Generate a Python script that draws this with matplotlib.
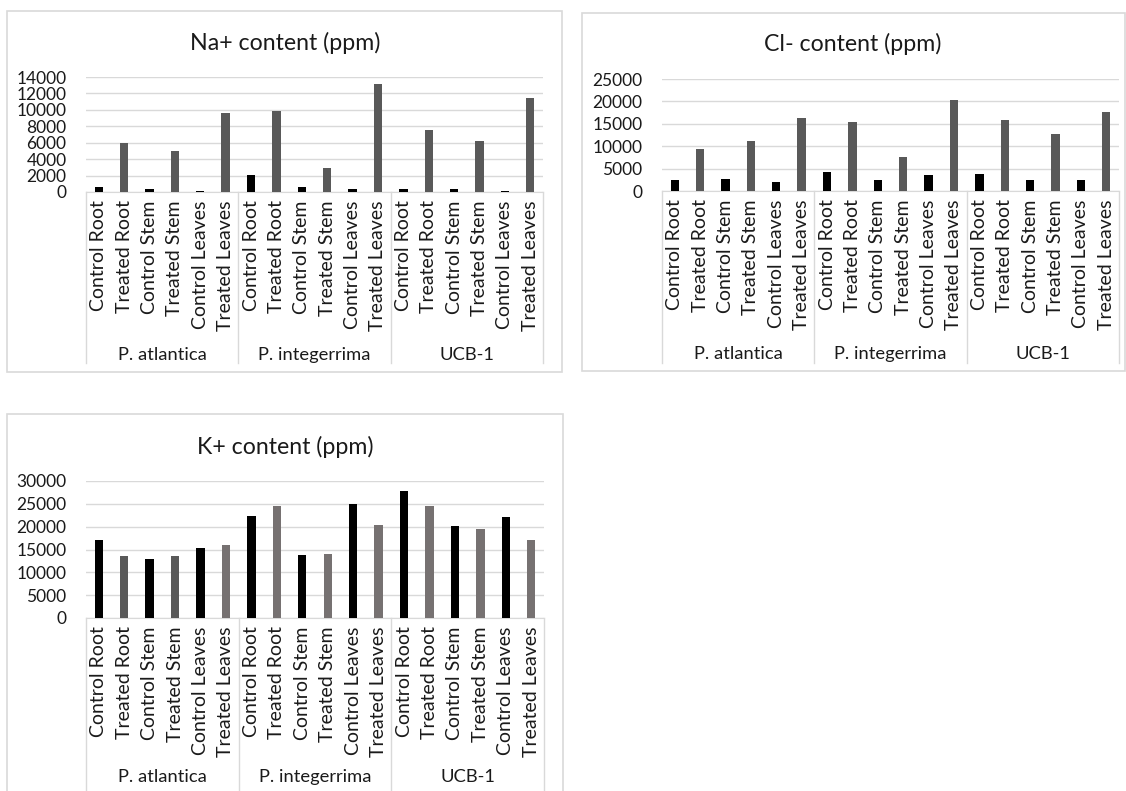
import matplotlib
matplotlib.use("Agg")
import matplotlib.pyplot as plt
from matplotlib.patches import Rectangle

plt.rcParams['font.family'] = ['Lato', 'DejaVu Sans']

W, H = 1126, 791

groups = ["P. atlantica", "P. integerrima", "UCB-1"]
tissues = ["Control Root", "Treated Root", "Control Stem", "Treated Stem",
           "Control Leaves", "Treated Leaves"]

na_values = [650, 5950, 400, 5030, 160, 9580,
             2110, 9800, 650, 2920, 330, 13200,
             400, 7600, 400, 6250, 160, 11400]
cl_values = [2550, 9430, 2770, 11150, 1950, 16320,
             4270, 15340, 2550, 7560, 3670, 20360,
             3890, 15870, 2550, 12650, 2550, 17670]
k_values = [17100, 13570, 12830, 13570, 15270, 16000,
            22420, 24480, 13720, 13940, 24930, 20350,
            27730, 24480, 20210, 19470, 22050, 17100]

BLACK = "#000000"
DARK = "#595959"
LIGHT = "#767171"
na_colors = [BLACK, DARK] * 9
cl_colors = [BLACK, DARK] * 9
k_colors = [BLACK, DARK, BLACK, DARK, BLACK, LIGHT] + [BLACK, LIGHT] * 6

TXT = "#1a1a1a"
GRID = "#d9d9d9"

fig = plt.figure(figsize=(W / 100, H / 100), dpi=100)


def fx(x):
    return x / W


def fy(y):
    return 1 - y / H


def panel(border, axbox, title, title_xy, values, colors, ymax, ystep,
          sep_bottom, group_y):
    bx0, by0, bx1, by1 = border
    fig.add_artist(Rectangle((fx(bx0), fy(by1)), fx(bx1) - fx(bx0), fy(by0) - fy(by1),
                             transform=fig.transFigure, fill=False,
                             edgecolor=GRID, linewidth=1.2))
    ax0, ay0, ax1, ay1 = axbox  # left, top(ymax), right, zero
    ax = fig.add_axes([fx(ax0), fy(ay1), fx(ax1) - fx(ax0), fy(ay0) - fy(ay1)])
    n = len(values)
    xs = list(range(n))
    ax.bar(xs, values, width=0.33, color=colors, zorder=3)
    ax.set_xlim(-0.5, n - 0.5)
    ax.set_ylim(0, ymax)
    ax.set_yticks(range(0, ymax + 1, ystep))
    ax.yaxis.grid(True, color=GRID, linewidth=1, zorder=0)
    ax.set_axisbelow(True)
    for s in ax.spines.values():
        s.set_visible(False)
    ax.spines['bottom'].set_visible(True)
    ax.spines['bottom'].set_color(GRID)
    ax.tick_params(axis='y', length=0, labelsize=12.5, labelcolor=TXT, pad=14)
    ax.tick_params(axis='x', length=0, labelsize=14, labelcolor=TXT, pad=6)
    ax.set_xticks(xs)
    ax.set_xticklabels(tissues * len(groups), rotation=90, va='top', ha='center')
    axh = ay1 - ay0
    frac = -(sep_bottom - ay1) / axh
    for b in [-0.5, 5.5, 11.5, 17.5]:
        ax.plot([b, b], [0, frac], transform=ax.get_xaxis_transform(),
                color=GRID, linewidth=1, clip_on=False)
    gfrac = -(group_y - ay1) / axh
    for i, g in enumerate(groups):
        ax.text(i * 6 + 2.5, gfrac, g, transform=ax.get_xaxis_transform(),
                ha='center', va='center', fontsize=13.2, color=TXT)
    fig.text(fx(title_xy[0]), fy(title_xy[1]), title, ha='center', va='center',
             fontsize=16.7, color=TXT)
    return ax


panel((7, 11, 562, 372), (86, 77, 543, 192), "Na+ content (ppm)", (285, 43),
      na_values, na_colors, 14000, 2000, 363, 355)
panel((582, 13, 1125, 371), (662, 79, 1119, 191), "Cl- content (ppm)", (853, 44),
      cl_values, cl_colors, 25000, 5000, 363, 354)
panel((7, 414, 563, 805), (86, 481, 544, 618), "K+ content (ppm)", (285, 447),
      k_values, k_colors, 30000, 5000, 800, 777)

fig.savefig("out.png", dpi=100)
